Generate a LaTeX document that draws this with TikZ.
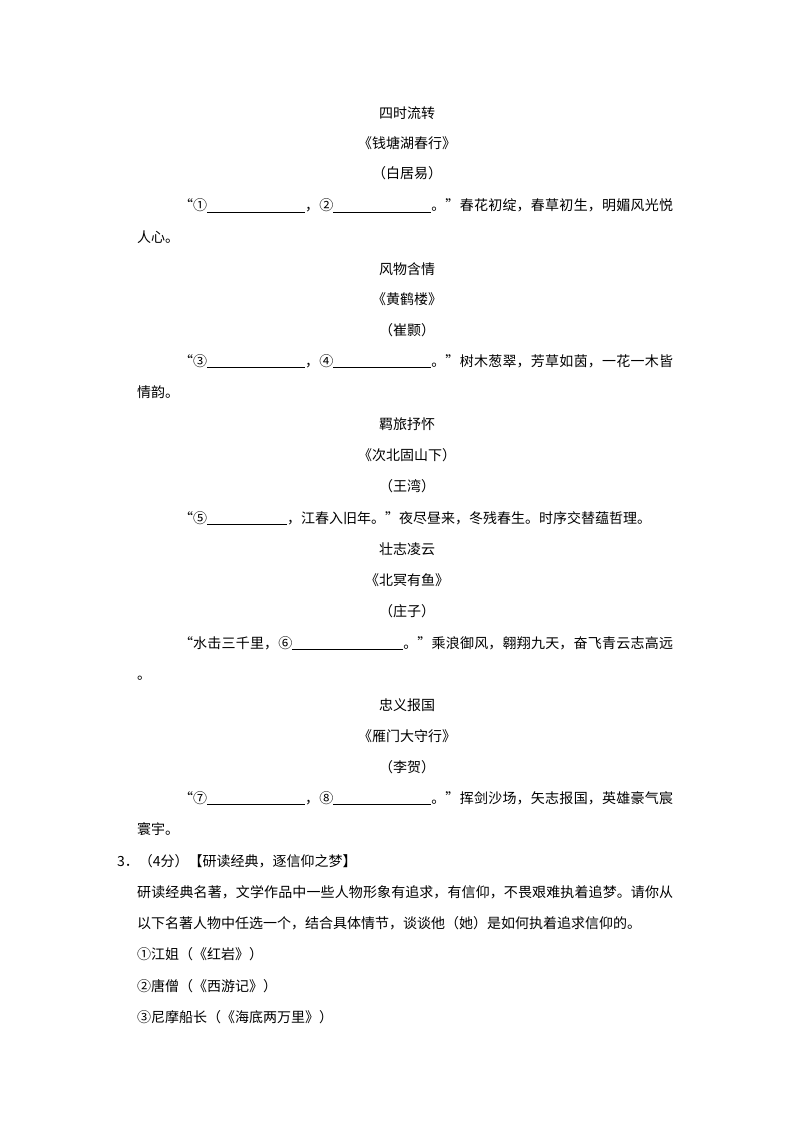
\documentclass[tikz,border=0pt]{standalone}
\usepackage{fontspec}
\setmainfont{Noto Sans CJK SC}
\XeTeXlinebreaklocale "zh"
\XeTeXlinebreakskip=0pt plus 1pt
\newcommand{\answerline}[1]{\rule[-2pt]{#1}{0.6pt}}

\begin{document}
\begin{tikzpicture}[x=1pt, y=-1pt,
	title/.style={anchor=base, inner sep=0pt},
	para/.style={anchor=base west, inner sep=0pt, text width=536pt, align=justify},
	font=\fontsize{14pt}{31.2pt}\selectfont]
	\useasboundingbox (0, 0) rectangle (794, 1123);
	% 四时流转
	\node[title] (h1) at (407, 119) {四时流转};
	\node[title] (b1) at (407, 149) {《钱塘湖春行》};
	\node[title] (a1) at (407, 179) {（白居易）};
	\node[para] (p1) at (137, 211) {\hspace*{42pt}“①\answerline{98pt}，②\answerline{98pt}。”春花初绽，春草初生，明媚风光悦\linebreak 人心。};
	% 风物含情
	\node[title] (h2) at (407, 274) {风物含情};
	\node[title] (b2) at (407, 304) {《黄鹤楼》};
	\node[title] (a2) at (407, 335) {（崔颢）};
	\node[para] (p2) at (137, 366) {\hspace*{42pt}“③\answerline{98pt}，④\answerline{98pt}。”树木葱翠，芳草如茵，一花一木皆\linebreak 情韵。};
	% 羁旅抒怀
	\node[title] (h3) at (407, 429) {羁旅抒怀};
	\node[title] (b3) at (407, 460) {《次北固山下）};
	\node[title] (a3) at (407, 491) {（王湾）};
	\node[para] (p3) at (137, 523) {\hspace*{42pt}“⑤\answerline{80pt}，江春入旧年。”夜尽昼来，冬残春生。时序交替蕴哲理。};
	% 壮志凌云
	\node[title] (h4) at (407, 554) {壮志凌云};
	\node[title] (b4) at (407, 585) {《北冥有鱼》};
	\node[title] (a4) at (407, 616) {（庄子）};
	\node[para] (p4) at (137, 648) {\hspace*{42pt}“水击三千里，⑥\answerline{111pt}。”乘浪御风，翱翔九天，奋飞青云志高远\linebreak 。};
	% 忠义报国
	\node[title] (h5) at (407, 710) {忠义报国};
	\node[title] (b5) at (407, 741) {《雁门大守行》};
	\node[title] (a5) at (407, 772) {（李贺）};
	\node[para] (p5) at (137, 803) {\hspace*{42pt}“⑦\answerline{98pt}，⑧\answerline{98pt}。”挥剑沙场，矢志报国，英雄豪气宸\linebreak 寰宇。};
	% question 3
	\node[anchor=base west, inner sep=0pt] (q3) at (117, 866) {3．（4分）【研读经典，逐信仰之梦】};
	\node[para] (q3text) at (137, 897) {研读经典名著，文学作品中一些人物形象有追求，有信仰，不畏艰难执着追梦。请你从\linebreak 以下名著人物中任选一个，结合具体情节，谈谈他（她）是如何执着追求信仰的。};
	\node[anchor=base west, inner sep=0pt] (c1) at (137, 959) {①江姐（《红岩》）};
	\node[anchor=base west, inner sep=0pt] (c2) at (137, 991) {②唐僧（《西游记》）};
	\node[anchor=base west, inner sep=0pt] (c3) at (137, 1022) {③尼摩船长（《海底两万里》）};
\end{tikzpicture}
\end{document}
